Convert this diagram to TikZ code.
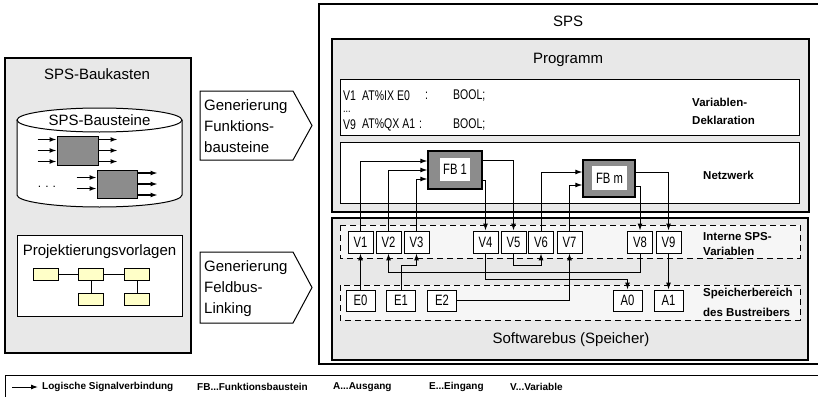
\documentclass[tikz,border=0pt]{standalone}
\usepackage{fontspec}
\setmainfont{Liberation Sans}
\usetikzlibrary{arrows.meta,calc}
\definecolor{panel}{RGB}{232,232,232}
\definecolor{zone}{RGB}{246,246,246}
\definecolor{hatch}{RGB}{140,140,140}
\definecolor{tmpl}{RGB}{255,255,200}
% condensed lettering used for the variable and block labels
\newcommand{\slim}[1]{\scalebox{0.75}[1]{#1}}
\begin{document}
\begin{tikzpicture}[x=1pt,y=1pt,
  big/.style={draw, line width=1.3pt},
  box/.style={draw, line width=1pt},
  lbl/.style={inner sep=0pt, font=\fontsize{15}{18}\selectfont},
  tag/.style={inner sep=0pt, anchor=west, font=\fontsize{11.5}{13}\selectfont\bfseries},
  leg/.style={inner sep=0pt, anchor=west, font=\fontsize{10}{12}\selectfont\bfseries},
  decl/.style={inner sep=0pt, anchor=west, font=\fontsize{14}{14}\selectfont},
  var/.style={draw, fill=white, line width=0.9pt, minimum width=25pt, minimum height=22pt, inner sep=0pt, font=\fontsize{15}{15}\selectfont},
  io/.style={var, minimum width=29pt, minimum height=21pt},
  fbbox/.style={draw, fill=hatch, line width=1.3pt, inner sep=0pt},
  fbtext/.style={fill=white, inner sep=0pt, font=\fontsize{15}{15}\selectfont},
  blk/.style={draw, fill=hatch, line width=1pt, inner sep=0pt, minimum width=41pt, minimum height=29pt},
  tpl/.style={draw, fill=tmpl, line width=0.8pt, inner sep=0pt, minimum width=25pt, minimum height=12pt},
  arr/.style={line width=1pt, -{Latex[length=7pt,width=5pt]}},
  sarr/.style={line width=1.3pt, -{Latex[length=7pt,width=5pt]}},
  zonebox/.style={draw, fill=zone, line width=1pt, dash pattern=on 6pt off 4pt}
]
\useasboundingbox (0,0) rectangle (818,-396);

% ---------------- SPS-Baukasten ----------------
\draw[big, fill=panel] (5,-58) rectangle (191,-353);
\node[lbl] (bktitle) at (97,-74) {SPS-Baukasten};

% library cylinder
\fill[white] (17,-120) -- (17,-195) arc[start angle=180,end angle=360,x radius=82.5,y radius=12] -- (182,-120) -- cycle;
\draw[line width=1pt] (17,-120) -- (17,-195) arc[start angle=180,end angle=360,x radius=82.5,y radius=12] -- (182,-120);
\draw[line width=1pt, fill=white] (99.5,-120) ellipse[x radius=82.5, y radius=12];
\node[lbl] (cyltitle) at (99.5,-120) {SPS-Bausteine};

\node[blk] (bs1) at (77.5,-150.5) {};
\node[blk, minimum width=40pt, minimum height=28pt] (bs2) at (117,-184) {};
\foreach \d in {11,0,-11} {
  \draw[sarr] ([xshift=-19pt,yshift=\d pt]bs1.west) -- ([yshift=\d pt]bs1.west);
  \draw[sarr] ([yshift=\d pt]bs1.east) -- ([xshift=19pt,yshift=\d pt]bs1.east);
  \draw[sarr] ([yshift=\d pt]bs2.east) -- ([xshift=20pt,yshift=\d pt]bs2.east);
}
\foreach \d in {6.5,-4.5} {
  \draw[sarr] ([xshift=-20pt,yshift=\d pt]bs2.west) -- ([yshift=\d pt]bs2.west);
}
\node[inner sep=0pt, font=\fontsize{12}{12}\selectfont] (dots) at (47,-187) {.\,\,.\,\,.};

% templates
\draw[box, fill=white] (17,-235) rectangle (182,-316);
\node[lbl] (tpltitle) at (99.5,-252) {Projektierungsvorlagen};
\node[tpl] (t1) at (45.5,-274) {};
\node[tpl] (t2) at (91,-274) {};
\node[tpl] (t3) at (137,-274) {};
\node[tpl] (t4) at (91,-299) {};
\node[tpl] (t5) at (137,-299) {};
\draw[line width=0.8pt] (t1) -- (t2) (t2) -- (t3) (t2) -- (t4) (t3) -- (t5);

% ---------------- generation steps ----------------
\draw[box, fill=white] (200,-91) -- (293,-91) -- (312,-125.5) -- (293,-160) -- (200,-160) -- cycle;
\node[lbl, anchor=west, align=left, font=\fontsize{15}{21}\selectfont] (gen1) at (204,-126) {Generierung\\Funktions-\\bausteine};
\draw[box, fill=white] (200,-252) -- (293,-252) -- (312,-287.5) -- (293,-323) -- (200,-323) -- cycle;
\node[lbl, anchor=west, align=left, font=\fontsize{15}{21}\selectfont] (gen2) at (204,-289) {Generierung\\Feldbus-\\Linking};

% ---------------- SPS ----------------
\draw[big, fill=white] (319,-4) rectangle (830,-364);
\node[lbl] (spstitle) at (568,-21) {SPS};

\draw[big, fill=panel] (332,-39) rectangle (809,-212);
\node[lbl] (prgtitle) at (568,-60) {Programm};

% declaration part
\draw[box, fill=white] (340,-79) rectangle (799,-135);
\node[decl] (d1a) at (343,-96) {\slim{V1}};
\node[decl] (d1b) at (362,-96) {\slim{AT\%IX E0}};
\node[decl] (d1c) at (425,-96) {\slim{:}};
\node[decl] (d1d) at (453,-96) {\slim{BOOL;}};
\node[decl, font=\fontsize{12}{12}\selectfont] (dd) at (343,-112) {\slim{...}};
\node[decl] (d9a) at (343,-125) {\slim{V9}};
\node[decl] (d9b) at (362,-125) {\slim{AT\%QX A1}};
\node[decl] (d9c) at (419,-125) {\slim{:}};
\node[decl] (d9d) at (453,-125) {\slim{BOOL;}};
\node[tag] (declA) at (692,-102) {Variablen-};
\node[tag] (declB) at (692,-120) {Deklaration};

% network part
\draw[box, fill=white] (340,-142) rectangle (799,-203);
\node[tag] (netz) at (703,-175) {Netzwerk};

\node[fbbox, minimum width=54pt, minimum height=38pt] (FB1) at (455,-170) {};
\node[fbtext, minimum width=30pt, minimum height=23pt] (FB1t) at (455,-169.5) {\slim{FB 1}};
\node[fbbox, minimum width=52pt, minimum height=37pt] (FBm) at (609,-178.5) {};
\node[fbtext, minimum width=35pt, minimum height=24pt] (FBmt) at (609.5,-178) {\slim{FB m}};

% ---------------- software bus ----------------
\draw[big, fill=panel] (332,-218) rectangle (808,-360);
\node[lbl] (bustitle) at (571,-340) {Softwarebus (Speicher)};

\draw[zonebox] (340,-225) rectangle (800,-258);
\draw[zonebox] (340,-285) rectangle (800,-320);
\node[tag] (intA) at (703,-237) {Interne SPS-};
\node[tag] (intB) at (703,-251) {Variablen};
\node[tag] (spA) at (703,-294) {Speicherbereich};
\node[tag] (spB) at (703,-312) {des Bustreibers};

% variables
\node[var] (V1) at (360.5,-242) {\slim{V1}};
\node[var] (V2) at (388.5,-242) {\slim{V2}};
\node[var] (V3) at (416.5,-242) {\slim{V3}};
\node[var] (V4) at (485.5,-242) {\slim{V4}};
\node[var] (V5) at (513.5,-242) {\slim{V5}};
\node[var] (V6) at (541,-242) {\slim{V6}};
\node[var] (V7) at (569.5,-242) {\slim{V7}};
\node[var] (V8) at (640,-242) {\slim{V8}};
\node[var] (V9) at (668.5,-242) {\slim{V9}};

% bus driver memory
\node[io] (E0) at (360.5,-300.5) {\slim{E0}};
\node[io] (E1) at (401,-300.5) {\slim{E1}};
\node[io] (E2) at (442,-300.5) {\slim{E2}};
\node[io] (A0) at (627.5,-300.5) {\slim{A0}};
\node[io] (A1) at (668.5,-300.5) {\slim{A1}};

% levels of the horizontal runs between the two zones
\coordinate (busA) at (0,-265);
\coordinate (busB) at (0,-272);
\coordinate (busC) at (0,-279);

% signal connections in the network
\draw[arr] (V1.north) |- ([yshift=9pt]FB1.west);
\draw[arr] (V2.north) |- (FB1.west);
\draw[arr] (V3.north) |- ([yshift=-9pt]FB1.west);
\draw[arr] ([yshift=10pt]FB1.east) -| (V5.north);
\draw[arr] ([yshift=-10pt]FB1.east) -| (V4.north);
\draw[arr] (V6.north) |- ([yshift=6.5pt]FBm.west);
\draw[arr] (V7.north) |- ([yshift=-6.5pt]FBm.west);
\draw[arr] ([yshift=6.5pt]FBm.east) -| (V9.north);
\draw[arr] ([yshift=-7.5pt]FBm.east) -| (V8.north);

% signal connections in the software bus
\draw[arr] (E0.north) -- (V1.south);
\draw[arr] (E1.north) -- (E1.north |- busA) -| (V3.south);
\draw[arr] (V8.south) -- (V8.south |- busB) -| (V2.south);
\draw[arr] (V5.south) -- (V5.south |- busA) -| (V6.south);
\draw[arr] (V4.south) -- (V4.south |- busC) -| (A0.north);
\draw[arr] (E2.east) -| (V7.south);
\draw[arr] (V9.south) -- (A1.north);

% ---------------- legend ----------------
\draw[box] (5,-375) rectangle (830,-402);
\coordinate (legS) at (12,-387);
\coordinate (legE) at (38,-387);
\draw[arr] (legS) -- (legE);
\node[leg] (l1) at (42,-387) {Logische Signalverbindung};
\node[leg] (l2) at (197,-387) {FB...Funktionsbaustein};
\node[leg] (l3) at (333,-387) {A...Ausgang};
\node[leg] (l4) at (429,-387) {E...Eingang};
\node[leg] (l5) at (510,-387) {V...Variable};
\end{tikzpicture}
\end{document}
